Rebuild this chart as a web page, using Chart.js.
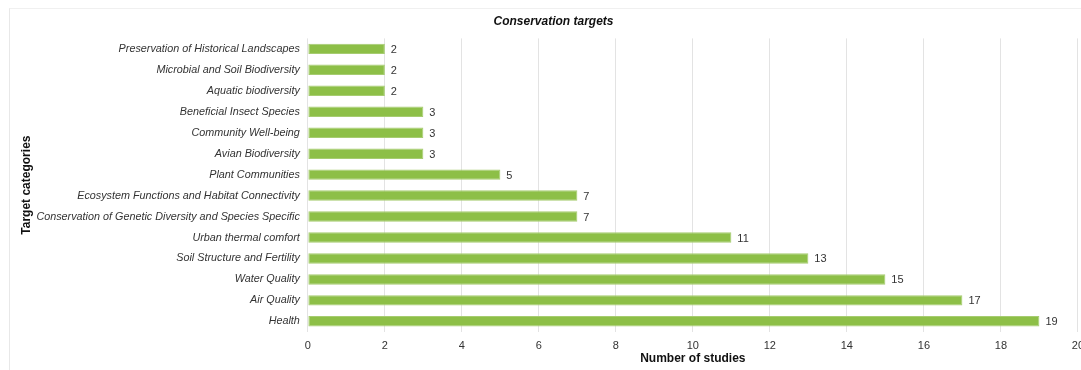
<!DOCTYPE html>
<html>
<head>
<meta charset="utf-8">
<script src="https://cdn.jsdelivr.net/npm/chart.js@4.4.0/dist/chart.umd.min.js"></script>
<style>
  body { margin: 0; background: #fff; overflow: hidden; }
  #wrap {
    position: absolute; left: 9px; top: 8px;
    width: 1082px; height: 361px;
    border-left: 1px solid #e8e8e8; border-top: 1px solid #f0f0f0;
  }
</style>
</head>
<body>
<div id="wrap"><canvas id="myChart"></canvas></div>
<script>
// categories top to bottom, as in the picture
let categories = [
  "Preservation of Historical Landscapes",
  "Microbial and Soil Biodiversity",
  "Aquatic biodiversity",
  "Beneficial Insect Species",
  "Community Well-being",
  "Avian Biodiversity",
  "Plant Communities",
  "Ecosystem Functions and Habitat Connectivity",
  "Conservation of Genetic Diversity and Species Specific",
  "Urban thermal comfort",
  "Soil Structure and Fertility",
  "Water Quality",
  "Air Quality",
  "Health"
];
let studies = [2, 2, 2, 3, 3, 3, 5, 7, 7, 11, 13, 15, 17, 19];

let xMin = 0;
let xMax = 20;
let xStep = 2;

// little plugin for the numbers at the end of the bars
const valueLabels = {
  id: 'valueLabels',
  afterDatasetsDraw(chart) {
    const ctx = chart.ctx;
    const meta = chart.getDatasetMeta(0);
    ctx.save();
    ctx.font = '11px "Liberation Sans", Arial, sans-serif';
    ctx.fillStyle = '#333';
    ctx.textAlign = 'left';
    ctx.textBaseline = 'middle';
    meta.data.forEach(function(bar, i) {
      ctx.fillText(studies[i], bar.x + 6, bar.y + 1);
    });
    ctx.restore();
  }
};

const ctx = document.getElementById('myChart');

new Chart(ctx, {
  type: 'bar',
  data: {
    labels: categories,
    datasets: [{
      data: studies,
      backgroundColor: '#8dbf47',
      borderColor: '#a6cc70',
      borderWidth: 1,
      borderSkipped: false,
      barPercentage: 0.5,
      categoryPercentage: 1.0
    }]
  },
  options: {
    indexAxis: 'y',
    responsive: true,
    maintainAspectRatio: false,
    animation: false,
    layout: { padding: { left: 9, right: 4, top: 0, bottom: 5 } },
    plugins: {
      legend: { display: false },
      tooltip: { enabled: false },
      title: {
        display: true,
        text: 'Conservation targets',
        color: '#111',
        font: { family: '"Liberation Sans", Arial, sans-serif', size: 12, weight: 'bold', style: 'italic' },
        padding: { top: 5, bottom: 10 }
      }
    },
    scales: {
      x: {
        min: xMin,
        max: xMax,
        ticks: {
          stepSize: xStep,
          color: '#333',
          padding: 8,
          font: { family: '"Liberation Sans", Arial, sans-serif', size: 11 }
        },
        grid: { color: '#e3e3e3', drawTicks: false },
        border: { display: false },
        title: {
          display: true,
          text: 'Number of studies',
          color: '#111',
          padding: { top: -8, bottom: 0 },
          font: { family: '"Liberation Sans", Arial, sans-serif', size: 12, weight: 'bold', lineHeight: 1 }
        }
      },
      y: {
        ticks: {
          color: '#333',
          padding: 8,
          autoSkip: false,
          font: { family: '"Liberation Sans", Arial, sans-serif', size: 10.8, style: 'italic' }
        },
        grid: { display: false, drawTicks: false },
        border: { display: false },
        title: {
          display: true,
          text: 'Target categories',
          color: '#111',
          padding: { top: 0, bottom: -5 },
          font: { family: '"Liberation Sans", Arial, sans-serif', size: 12, weight: 'bold' }
        }
      }
    }
  },
  plugins: [valueLabels]
});
</script>
</body>
</html>
